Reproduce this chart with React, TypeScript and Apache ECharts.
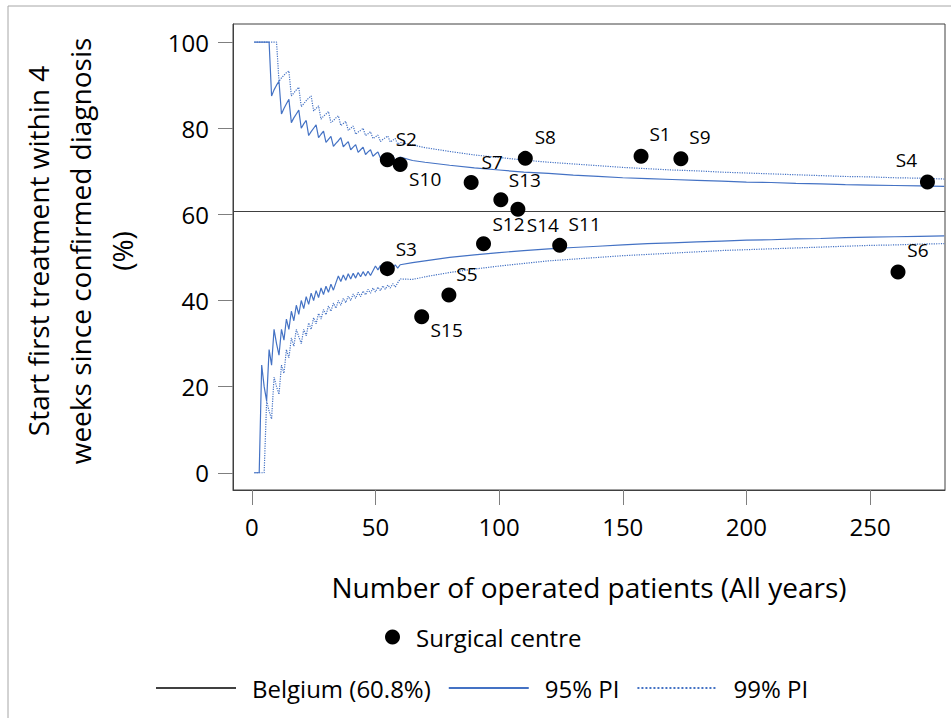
import React, { useEffect, useRef } from 'react';
import * as echarts from 'echarts';

// ---- Surgical centres ----
const CENTRES = ['S1', 'S2', 'S3', 'S4', 'S5', 'S6', 'S7', 'S8', 'S9', 'S10', 'S11', 'S12', 'S13', 'S14', 'S15'];
const PATIENTS = [157.4, 54.8, 54.8, 273.2, 79.7, 261.3, 88.7, 110.6, 173.5, 60.0, 124.5, 93.7, 100.7, 107.6, 68.7];
const PERCENT = [73.5, 72.7, 47.4, 67.5, 41.3, 46.6, 67.4, 73.0, 72.9, 71.6, 52.8, 53.2, 63.4, 61.2, 36.2];

// ---- Belgian average ----
const BELGIUM = 60.8;

// ---- Tick labels ----
const X_TICKS = [0, 50, 100, 150, 200, 250];
const Y_TICKS = [0, 20, 40, 60, 80, 100];

// ---- Prediction limits ----
const PI_N = [
  1, 2, 3, 4, 5, 6, 7, 8, 9, 10,
  11, 12, 13, 14, 15, 16, 17, 18, 19, 20,
  21, 22, 23, 24, 25, 26, 27, 28, 29, 30,
  31, 32, 33, 34, 35, 36, 37, 38, 39, 40,
  41, 42, 43, 44, 45, 46, 47, 48, 49, 50,
  51, 52, 53, 54, 55, 56, 57, 58, 59, 60,
  65, 70, 80, 90, 100, 110, 120, 130, 140, 150, 160, 170, 180, 190, 200, 210, 220, 230, 240, 250, 260, 270, 280,
];
const PI95_UPPER = [
  100, 100, 100, 100, 100, 100, 100, 87.5, 88.9, 90.0,
  90.9, 83.3, 84.6, 85.7, 86.7, 81.3, 82.4, 83.3, 84.2, 80.0,
  81.0, 81.8, 78.3, 79.2, 80.0, 80.8, 77.8, 78.6, 79.3, 76.7,
  77.4, 78.1, 75.8, 76.5, 77.1, 77.8, 75.7, 76.3, 76.9, 75.0,
  75.6, 76.2, 74.4, 75.0, 75.6, 73.9, 74.5, 75.0, 73.5, 74.0,
  74.5, 73.1, 73.6, 74.1, 72.7, 73.2, 73.7, 72.4, 72.9, 73.3,
  72.5, 72.1, 71.4, 70.8, 70.3, 69.8, 69.5, 69.1, 68.8, 68.5, 68.3, 68.1, 67.9, 67.7, 67.5, 67.4, 67.2, 67.1, 66.9, 66.8, 66.7, 66.6, 66.5,
];
const PI95_LOWER = [
  0, 0, 0, 25.0, 20.0, 16.7, 28.6, 25.0, 33.3, 30.0,
  27.3, 33.3, 30.8, 35.7, 33.3, 37.5, 35.3, 38.9, 36.8, 40.0,
  38.1, 40.9, 39.1, 41.7, 40.0, 42.3, 40.7, 42.9, 41.4, 43.3,
  41.9, 43.8, 42.4, 44.1, 45.7, 44.4, 45.9, 44.7, 46.2, 45.0,
  46.3, 45.2, 46.5, 45.5, 46.7, 45.7, 46.8, 45.8, 46.9, 48.0,
  47.1, 48.1, 47.2, 48.1, 47.3, 48.2, 47.4, 48.3, 47.5, 48.3,
  48.8, 49.2, 50.0, 50.6, 51.1, 51.6, 52.0, 52.3, 52.6, 52.9, 53.2, 53.4, 53.6, 53.8, 54.0, 54.1, 54.3, 54.4, 54.6, 54.7, 54.8, 54.9, 55.0,
];
const PI99_UPPER = [
  100, 100, 100, 100, 100, 100, 100, 100, 100, 100,
  90.9, 91.7, 92.3, 92.9, 93.3, 87.5, 88.2, 88.9, 89.5, 85.0,
  85.7, 86.4, 87.0, 87.5, 84.0, 84.6, 85.2, 82.1, 82.8, 83.3,
  83.9, 81.3, 81.8, 82.4, 82.9, 80.6, 81.1, 81.6, 79.5, 80.0,
  80.5, 78.6, 79.1, 79.5, 80.0, 78.3, 78.7, 79.2, 77.6, 78.0,
  78.4, 76.9, 77.4, 77.8, 78.2, 76.8, 77.2, 77.6, 76.3, 76.7,
  76.1, 75.5, 74.6, 73.8, 73.2, 72.6, 72.1, 71.7, 71.3, 70.9, 70.6, 70.3, 70.1, 69.8, 69.6, 69.4, 69.2, 69.0, 68.8, 68.7, 68.5, 68.4, 68.2,
];
const PI99_LOWER = [
  0, 0, 0, 0, 0, 16.7, 14.3, 12.5, 22.2, 20.0,
  18.2, 25.0, 23.1, 28.6, 26.7, 31.3, 29.4, 33.3, 31.6, 30.0,
  33.3, 31.8, 34.8, 33.3, 36.0, 34.6, 37.0, 35.7, 37.9, 36.7,
  38.7, 37.5, 39.4, 38.2, 40.0, 38.9, 40.5, 39.5, 41.0, 40.0,
  41.5, 40.5, 41.9, 40.9, 42.2, 41.3, 42.6, 41.7, 42.9, 42.0,
  43.1, 42.3, 43.4, 42.6, 43.6, 42.9, 43.9, 43.1, 44.1, 45.0,
  44.9, 45.5, 46.5, 47.3, 48.0, 48.6, 49.2, 49.6, 50.0, 50.4, 50.7, 51.0, 51.3, 51.6, 51.8, 52.0, 52.2, 52.4, 52.6, 52.8, 52.9, 53.1, 53.2,
];

// ---- Label placement (pixels, relative to the dot) ----
const LABEL_OFFSETS: Record<string, [number, number]> = {
  S1: [19, -22], S2: [19, -21], S3: [19, -20], S4: [-21, -22], S5: [18, -21],
  S6: [20, -22], S7: [21, -20], S8: [20, -21], S9: [19, -22], S10: [25, 15],
  S11: [25, -21], S12: [25, -20], S13: [24, -20], S14: [25, 16], S15: [25, 13],
};

const FONT = "'Open Sans', 'Noto Sans', sans-serif";
const BLUE = '#4472C4';

export default function App() {
  const ref = useRef<HTMLDivElement>(null);

  useEffect(() => {
    if (!ref.current) return;
    const chart = echarts.init(ref.current, undefined, { renderer: 'svg' });

    const pairs = (vals: number[]) => PI_N.map((n, i) => [n, vals[i]]);

    const scatterData = CENTRES.map((c, i) => ({
      name: c,
      value: [PATIENTS[i], PERCENT[i]],
      label: { offset: LABEL_OFFSETS[c] },
    }));

    const lineBase = (name: string, vals: number[], type: 'solid' | 'dotted') => ({
      name,
      type: 'line',
      data: pairs(vals),
      symbol: 'none',
      showSymbol: false,
      smooth: false,
      color: BLUE,
      lineStyle: { color: BLUE, width: 1.2, type },
      z: 3,
      silent: true,
    });

    chart.setOption({
      animation: false,
      backgroundColor: '#ffffff',
      textStyle: { fontFamily: FONT },
      grid: {
        left: 233,
        top: 24,
        width: 712,
        height: 466,
        show: true,
        borderColor: '#404040',
        borderWidth: 1,
        backgroundColor: 'transparent',
      },
      xAxis: {
        type: 'value',
        min: -7.6,
        max: 280.3,
        name: 'Number of operated patients (All years)',
        nameLocation: 'middle',
        nameGap: 83,
        nameTextStyle: { fontSize: 28, color: '#000', fontFamily: FONT },
        axisLine: { show: true, onZero: false, lineStyle: { color: '#404040', width: 1 } },
        axisTick: { show: true, length: 15, customValues: X_TICKS, lineStyle: { color: '#7f7f7f', width: 1 } },
        axisLabel: { customValues: X_TICKS, fontSize: 24, color: '#000', margin: 24, fontFamily: FONT },
        splitLine: { show: false },
      },
      yAxis: {
        type: 'value',
        min: -4,
        max: 104.2,
        axisLine: { show: true, onZero: false, lineStyle: { color: '#404040', width: 1 } },
        axisTick: { show: true, length: 15, customValues: Y_TICKS, lineStyle: { color: '#7f7f7f', width: 1 } },
        axisLabel: { customValues: Y_TICKS, fontSize: 24, color: '#000', margin: 24, fontFamily: FONT },
        splitLine: { show: false },
      },
      legend: [
        {
          data: ['Surgical centre'],
          left: 380,
          top: 617,
          icon: 'circle',
          itemWidth: 15,
          itemHeight: 15,
          itemStyle: { color: '#000', opacity: 1 },
          textStyle: { fontSize: 24, color: '#000', fontFamily: FONT, padding: [0, 0, 0, 11], lineHeight: 30 },
        },
        {
          data: ['Belgium (60.8%)', '95% PI', '99% PI'],
          left: 150,
          top: 668,
          itemWidth: 80,
          itemHeight: 14,
          itemGap: 17,
          itemStyle: { opacity: 0 },
          textStyle: { fontSize: 24, color: '#000', fontFamily: FONT, padding: [0, 0, 0, 11], lineHeight: 30 },
        },
      ],
      graphic: [
        {
          type: 'rect',
          shape: { x: 8, y: 6, width: 1000, height: 800 },
          style: { fill: 'none', stroke: '#a6a6a6', lineWidth: 1 },
          silent: true,
          z: -10,
        },
        {
          type: 'text',
          x: 80,
          y: 251,
          rotation: Math.PI / 2,
          style: {
            text: 'Start first treatment within 4\nweeks since confirmed diagnosis\n(%)',
            font: `28px ${FONT}`,
            fill: '#000',
            align: 'center',
            verticalAlign: 'middle',
            lineHeight: 42,
          },
        },
      ],
      series: [
        {
          name: 'Belgium (60.8%)',
          type: 'line',
          data: [],
          symbol: 'none',
          color: '#404040',
          lineStyle: { color: '#404040', width: 1, type: 'solid' },
          markLine: {
            silent: true,
            symbol: ['none', 'none'],
            label: { show: false },
            lineStyle: { color: '#404040', width: 1, type: 'solid' },
            data: [{ yAxis: BELGIUM }],
          },
          z: 2,
        },
        lineBase('95% PI', PI95_UPPER, 'solid'),
        lineBase('95% PI', PI95_LOWER, 'solid'),
        lineBase('99% PI', PI99_UPPER, 'dotted'),
        lineBase('99% PI', PI99_LOWER, 'dotted'),
        {
          name: 'Surgical centre',
          type: 'scatter',
          data: scatterData,
          symbol: 'circle',
          symbolSize: 15,
          color: '#000',
          itemStyle: { color: '#000', opacity: 1 },
          z: 5,
          label: {
            show: true,
            position: 'inside',
            formatter: '{b}',
            color: '#000',
            fontSize: 19,
            fontFamily: FONT,
          },
        },
      ],
    });

    return () => chart.dispose();
  }, []);

  return (
    <div
      ref={ref}
      style={{ position: 'absolute', left: 0, top: 0, width: 951, height: 718, background: '#fff' }}
    />
  );
}
